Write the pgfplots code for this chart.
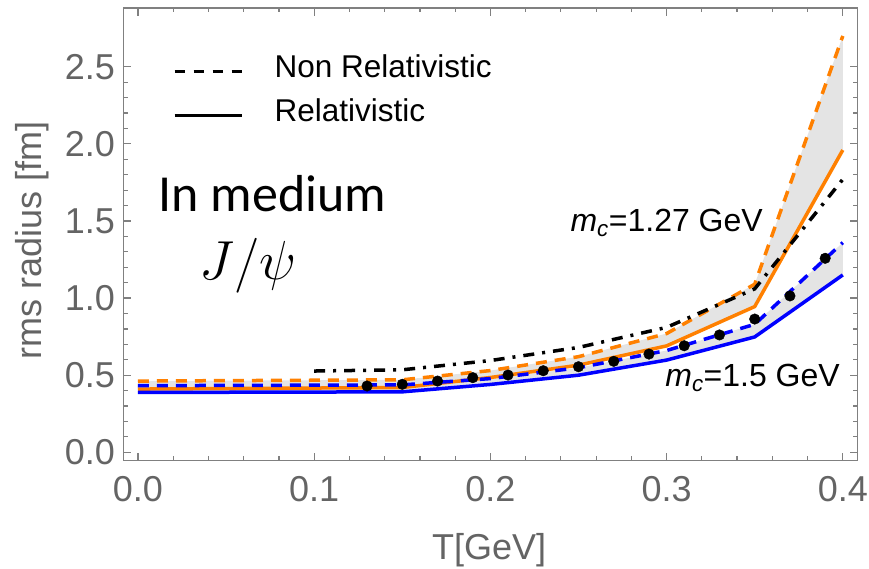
\RequirePackage{fix-cm}
\documentclass[border=0pt]{standalone}
\usepackage{fontspec}
\setmainfont{Liberation Sans}
\newfontfamily\calibri{Carlito}
\usepackage{pgfplots}
\pgfplotsset{compat=1.18}
\usepgfplotslibrary{fillbetween}
\definecolor{morange}{RGB}{255,128,0}
\definecolor{mblue}{RGB}{0,0,255}
\definecolor{bandgray}{RGB}{228,228,228}
\definecolor{framegray}{RGB}{128,128,128}
\definecolor{labelgray}{RGB}{100,100,100}
\begin{document}
\begin{tikzpicture}
\begin{axis}[
  scale only axis, width=734.4pt, height=452.7pt,
  xmin=-0.00834, xmax=0.40846, ymin=-0.0545, ymax=2.8813,
  xtick={0,0.1,0.2,0.3,0.4}, ytick={0,0.5,1,1.5,2,2.5},
  minor x tick num=4, minor y tick num=4,
  tick align=inside,
  major tick length=8pt, minor tick length=4.5pt,
  axis line style={framegray, line width=1.5pt},
  tick style={framegray, line width=1.2pt},
  /pgf/number format/assume math mode=true,
  /pgf/number format/fixed,
  /pgf/number format/fixed zerofill,
  /pgf/number format/precision=1,
  tick label style={font=\fontsize{36}{36}\selectfont, text=labelgray},
  xticklabel style={anchor=base, yshift=-41pt},
  yticklabel style={anchor=east, inner sep=0pt, xshift=-8.3pt},
  label style={font=\fontsize{36}{36}\selectfont, text=labelgray},
  xlabel={T[GeV]},
  xlabel style={at={(axis description cs:0.4982,-0.2193)}, anchor=base},
  ylabel={rms radius [fm]},
  ylabel style={at={(axis description cs:-0.1107,0.4875)}, anchor=base},
  legend cell align=left,
  legend image code/.code={\draw[#1] (0pt,0pt) -- (67pt,0pt);},
  legend style={at={(axis description cs:0.0677,0.8955)}, anchor=north west,
    draw=none, fill=none, inner sep=0pt, outer sep=0pt,
    row sep=12.4pt, column sep=31.7pt,
    font=\fontsize{31.5}{31.5}\selectfont, text=black,
    nodes={inner sep=0pt, text height=22pt, text depth=10pt}},
]
\addlegendimage{black, line width=3pt, dash pattern=on 10pt off 9pt}
\addlegendentry{Non Relativistic}
\addlegendimage{black, line width=3pt}
\addlegendentry{Relativistic}

% m_c = 1.27 GeV, non relativistic
\addplot[name path=ond, morange, line width=3.5pt, dash pattern=on 11pt off 8pt]
  coordinates {(0,0.462) (0.15,0.47) (0.2,0.53) (0.25,0.62) (0.3,0.77) (0.35,1.09) (0.4,2.70)};
% m_c = 1.27 GeV, relativistic
\addplot[name path=os, morange, line width=3.5pt]
  coordinates {(0,0.41) (0.15,0.42) (0.2,0.485) (0.25,0.565) (0.3,0.69) (0.35,0.945) (0.4,1.96)};
% m_c = 1.5 GeV, non relativistic
\addplot[name path=bnd, mblue, line width=3.5pt, dash pattern=on 11pt off 8pt]
  coordinates {(0,0.432) (0.15,0.437) (0.2,0.478) (0.25,0.548) (0.3,0.66) (0.35,0.83) (0.4,1.36)};
% m_c = 1.5 GeV, relativistic
\addplot[name path=bs, mblue, line width=3.5pt]
  coordinates {(0,0.388) (0.15,0.392) (0.2,0.44) (0.25,0.50) (0.3,0.598) (0.35,0.748) (0.4,1.15)};
\addplot[bandgray] fill between[of=ond and os];
\addplot[bandgray] fill between[of=bnd and bs];
% dash-dot curve
\addplot[black, line width=3.5pt, dash pattern=on 11pt off 8pt on 3pt off 8pt]
  coordinates {(0.1,0.527) (0.15,0.535) (0.2,0.595) (0.25,0.68) (0.3,0.81) (0.35,1.06) (0.4,1.77)};
% dots
\addplot[only marks, mark=*, mark size=5.3pt, black]
  coordinates {(0.13,0.43) (0.15,0.441) (0.17,0.462) (0.19,0.484) (0.21,0.501) (0.23,0.529) (0.25,0.555)
   (0.27,0.59) (0.29,0.637) (0.31,0.691) (0.33,0.761) (0.35,0.864) (0.37,1.014) (0.39,1.258)};
\end{axis}
\node[anchor=base west, inner sep=0pt, font=\calibri\fontsize{52}{52}\selectfont] at (35pt,249pt) {In medium};
\node[anchor=base west, inner sep=0pt, font=\fontsize{55}{55}\selectfont] at (76pt,180.7pt) {$J/\psi$};
\node[anchor=base east, inner sep=0pt, font=\fontsize{32}{32}\selectfont] at (639.7pt,229pt) {\textit{m}\textsubscript{\textit{c}}=1.27 GeV};
\node[anchor=base east, inner sep=0pt, font=\fontsize{32}{32}\selectfont] at (716.7pt,74pt) {\textit{m}\textsubscript{\textit{c}}=1.5 GeV};
\pgfresetboundingbox
\useasboundingbox (-123.3pt,-108.3pt) rectangle (745.7pt,460.7pt);
\end{tikzpicture}
\end{document}
